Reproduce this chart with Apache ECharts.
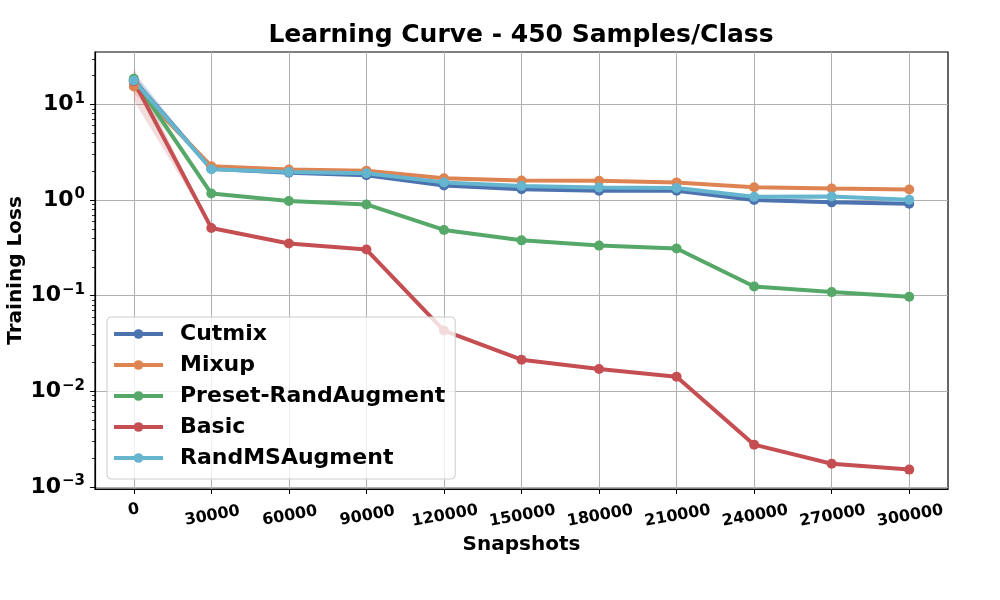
<!DOCTYPE html>
<html>
<head>
<meta charset="utf-8">
<script src="https://cdn.jsdelivr.net/npm/echarts@6/dist/echarts.min.js"></script>
<style>
  html, body { margin: 0; padding: 0; background: #fff; }
  #chart { width: 1000px; height: 600px; }
</style>
</head>
<body>
<div id="chart"></div>
<script>
// 横轴快照
const snapshots = [0, 30000, 60000, 90000, 120000, 150000, 180000, 210000, 240000, 270000, 300000]

// 各方法的训练损失
const cutmix = [18.0, 2.13, 1.93, 1.82, 1.42, 1.30, 1.25, 1.25, 1.00, 0.946, 0.916]
const mixup = [15.4, 2.26, 2.09, 2.02, 1.69, 1.60, 1.59, 1.53, 1.36, 1.32, 1.29]
const presetRandAugment = [18.5, 1.17, 0.977, 0.90, 0.487, 0.379, 0.334, 0.311, 0.125, 0.109, 0.0975]
const basic = [17.5, 0.511, 0.351, 0.304, 0.0432, 0.0214, 0.0171, 0.0142, 0.00277, 0.00175, 0.00152]
const randMSAugment = [17.8, 2.10, 1.96, 1.91, 1.53, 1.40, 1.35, 1.34, 1.08, 1.09, 1.01]

// 第一个点的波动范围（浅色阴影）
const bandLow0 = [15, 13, 15, 11, 15]
const bandHigh0 = [22, 19, 21, 24, 21]

const seriesNames = ['Cutmix', 'Mixup', 'Preset-RandAugment', 'Basic', 'RandMSAugment']
const seriesData = [cutmix, mixup, presetRandAugment, basic, randMSAugment]
const colors = ['#4C72B0', '#DD8452', '#55A868', '#C44E52', '#64B5CD']

// 刻度
const yMajorTicks = [0.001, 0.01, 0.1, 1, 10]
const yMinorTicks = []
;[0.001, 0.01, 0.1, 1, 10].forEach(d => {
  for (let k = 2; k <= 9; k++) yMinorTicks.push(+(d * k).toPrecision(3))
})

const font = 'DejaVu Sans'

const supMinus = (e) => (e < 0 ? '\u2212' + (-e) : String(e))

const chart = echarts.init(document.getElementById('chart'))

const lineSeries = seriesNames.map((name, i) => ({
  name: name,
  type: 'line',
  data: snapshots.map((x, j) => [x, seriesData[i][j]]),
  symbol: 'circle',
  symbolSize: 10,
  showSymbol: true,
  color: colors[i],
  lineStyle: { width: 4, color: colors[i] },
  itemStyle: { color: colors[i] },
  z: 3,
  animation: false
}))

const bandSeries = seriesNames.map((name, i) => ({
  name: name + ' band',
  type: 'custom',
  data: [[snapshots[0], bandLow0[i], bandHigh0[i], snapshots[1], seriesData[i][1]]],
  encode: { x: [0, 3], y: [1, 2, 4] },
  renderItem: (params, api) => {
    const p0 = api.coord([api.value(0), api.value(1)])
    const p1 = api.coord([api.value(0), api.value(2)])
    const p2 = api.coord([api.value(3), api.value(4)])
    return {
      type: 'polygon',
      shape: { points: [p0, p1, p2] },
      style: { fill: colors[i], opacity: 0.2 }
    }
  },
  silent: true,
  z: 2,
  animation: false
}))

const option = {
  backgroundColor: '#fff',
  animation: false,
  title: {
    text: 'Learning Curve - 450 Samples/Class',
    left: 521,
    textAlign: 'center',
    top: 23,
    padding: 0,
    textStyle: { fontFamily: font, fontWeight: 'bold', fontSize: 25, color: '#000' }
  },
  grid: {
    left: 95,
    right: 52,
    top: 52,
    bottom: 111,
    outerBoundsMode: 'none',
    containLabel: false,
    show: true,
    borderColor: '#000',
    borderWidth: 1.2,
    backgroundColor: '#fff'
  },
  legend: {
    data: seriesNames,
    orient: 'vertical',
    left: 107,
    top: 317,
    itemWidth: 49,
    itemHeight: 12,
    itemGap: 9,
    padding: [6, 10, 10, 5],
    backgroundColor: 'rgba(255,255,255,0.8)',
    borderColor: '#cccccc',
    borderWidth: 1,
    borderRadius: 4,
    lineStyle: { width: 4 },
    textStyle: { fontFamily: font, fontWeight: 'bold', fontSize: 22, color: '#000', lineHeight: 22, padding: [0, 0, 0, 12] }
  },
  xAxis: {
    type: 'value',
    min: -15000,
    max: 315000,
    name: 'Snapshots',
    nameLocation: 'middle',
    nameGap: 46,
    nameMoveOverlap: false,
    nameTextStyle: { fontFamily: font, fontWeight: 'bold', fontSize: 20, color: '#000' },
    axisLine: { show: true, onZero: false, lineStyle: { color: '#000', width: 1.2 } },
    axisTick: { show: true, length: 5, customValues: snapshots, lineStyle: { color: '#000', width: 1 } },
    axisLabel: {
      customValues: snapshots,
      rotate: 10,
      align: 'center',
      verticalAlign: 'middle',
      margin: 21,
      formatter: (v) => (v === 0 ? '{a|0}' : '{b|' + v + '}'),
      rich: {
        a: { fontFamily: font, fontWeight: 'bold', fontSize: 16, color: '#000' },
        b: { fontFamily: font, fontWeight: 'bold', fontSize: 16, color: '#000', padding: [12, 0, 0, 0] }
      }
    },
    splitLine: { show: true, lineStyle: { color: '#b0b0b0', width: 1 } }
  },
  yAxis: [
    {
      type: 'log',
      logBase: 10,
      min: 0.000953,
      max: 35.3,
      name: 'Training Loss',
      nameLocation: 'middle',
      nameGap: 69,
      nameRotate: 90,
      nameMoveOverlap: false,
      nameTextStyle: { fontFamily: font, fontWeight: 'bold', fontSize: 20, color: '#000' },
      axisLine: { show: true, onZero: false, lineStyle: { color: '#000', width: 1.2 } },
      axisTick: { show: true, length: 5, customValues: yMajorTicks, lineStyle: { color: '#000', width: 1 } },
      axisLabel: {
        customValues: yMajorTicks,
        margin: 10,
        formatter: (v) => '{b|10}{s|' + supMinus(Math.round(Math.log10(v))) + '}',
        rich: {
          b: { fontFamily: font, fontWeight: 'bold', fontSize: 22, color: '#000', lineHeight: 26 },
          s: { fontFamily: font, fontWeight: 'bold', fontSize: 15, color: '#000', lineHeight: 26, verticalAlign: 'top', padding: [0, 0, 8, 1] }
        }
      },
      splitLine: { show: true, lineStyle: { color: '#b0b0b0', width: 1 } }
    },
    {
      type: 'log',
      logBase: 10,
      min: 0.000953,
      max: 35.3,
      position: 'left',
      axisLine: { show: false, onZero: false },
      axisTick: { show: true, length: 3, customValues: yMinorTicks, lineStyle: { color: '#000', width: 0.8 } },
      axisLabel: { show: false },
      splitLine: { show: false }
    }
  ],
  series: bandSeries.concat(lineSeries)
}

chart.setOption(option)
</script>
</body>
</html>
